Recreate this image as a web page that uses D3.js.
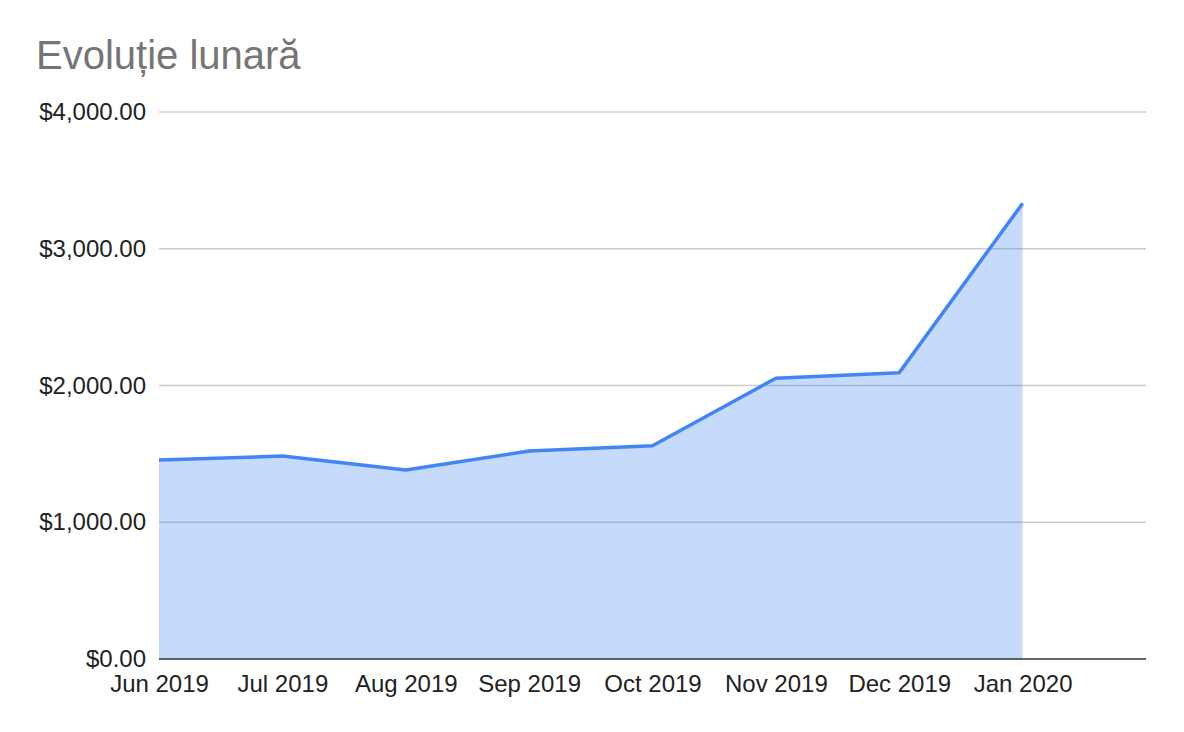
<!DOCTYPE html>
<html>
<head>
<meta charset="utf-8">
<script src="https://cdn.jsdelivr.net/npm/d3@7"></script>
<style>
  html, body { margin: 0; padding: 0; background: #fff; }
  svg { display: block; font-family: "Liberation Sans", Arial, sans-serif; }
</style>
</head>
<body>
<svg id="chart" width="1184" height="732"></svg>
<script>
const title = "Evoluție lunară";
const categories = ["Jun 2019", "Jul 2019", "Aug 2019", "Sep 2019", "Oct 2019", "Nov 2019", "Dec 2019", "Jan 2020"];
const values = [1455, 1484, 1382, 1521, 1560, 2053, 2094, 3332];
const yTicks = [0, 1000, 2000, 3000, 4000];

const svg = d3.select("#chart");
const plotLeft = 159, plotRight = 1146, plotTop = 112, plotBottom = 659;

const x = d3.scaleLinear().domain([0, categories.length]).range([plotLeft, plotRight]);
const y = d3.scaleLinear().domain([0, 4000]).range([plotBottom, plotTop]);
const fmt = d3.format("$,.2f");

svg.append("text")
  .attr("x", 36).attr("y", 69)
  .attr("font-size", 40).attr("fill", "#757575")
  .text(title);

const yAxis = d3.axisLeft(y).tickValues(yTicks).tickSize(0).tickFormat(fmt).tickPadding(13);
const gy = svg.append("g").attr("transform", `translate(${plotLeft},0)`).call(yAxis);
gy.select(".domain").remove();
gy.selectAll("text").attr("font-size", 24).attr("fill", "#222").attr("font-family", "Liberation Sans, Arial, sans-serif");

svg.append("g").selectAll("line")
  .data(yTicks.filter(d => d !== 0))
  .join("line")
  .attr("x1", plotLeft).attr("x2", plotRight)
  .attr("y1", d => y(d)).attr("y2", d => y(d))
  .attr("stroke", "#cccccc").attr("stroke-width", 1.5);

const data = values.map((v, i) => ({ i, v }));

svg.append("path")
  .datum(data)
  .attr("fill", "#4285f4").attr("fill-opacity", 0.3)
  .attr("d", d3.area().x(d => x(d.i)).y0(y(0)).y1(d => y(d.v)));

svg.append("path")
  .datum(data)
  .attr("fill", "none").attr("stroke", "#4285f4").attr("stroke-width", 3.5)
  .attr("stroke-linejoin", "round")
  .attr("d", d3.line().x(d => x(d.i)).y(d => y(d.v)));

svg.append("line")
  .attr("x1", plotLeft).attr("x2", plotRight)
  .attr("y1", y(0)).attr("y2", y(0))
  .attr("stroke", "#333").attr("stroke-width", 1.5);

const xAxis = d3.axisBottom(x).tickValues(d3.range(categories.length))
  .tickFormat(i => categories[i]).tickSize(0).tickPadding(16);
const gx = svg.append("g").attr("transform", `translate(0,${plotBottom})`).call(xAxis);
gx.select(".domain").remove();
gx.selectAll("text").attr("font-size", 24).attr("fill", "#222").attr("font-family", "Liberation Sans, Arial, sans-serif");
</script>
</body>
</html>
